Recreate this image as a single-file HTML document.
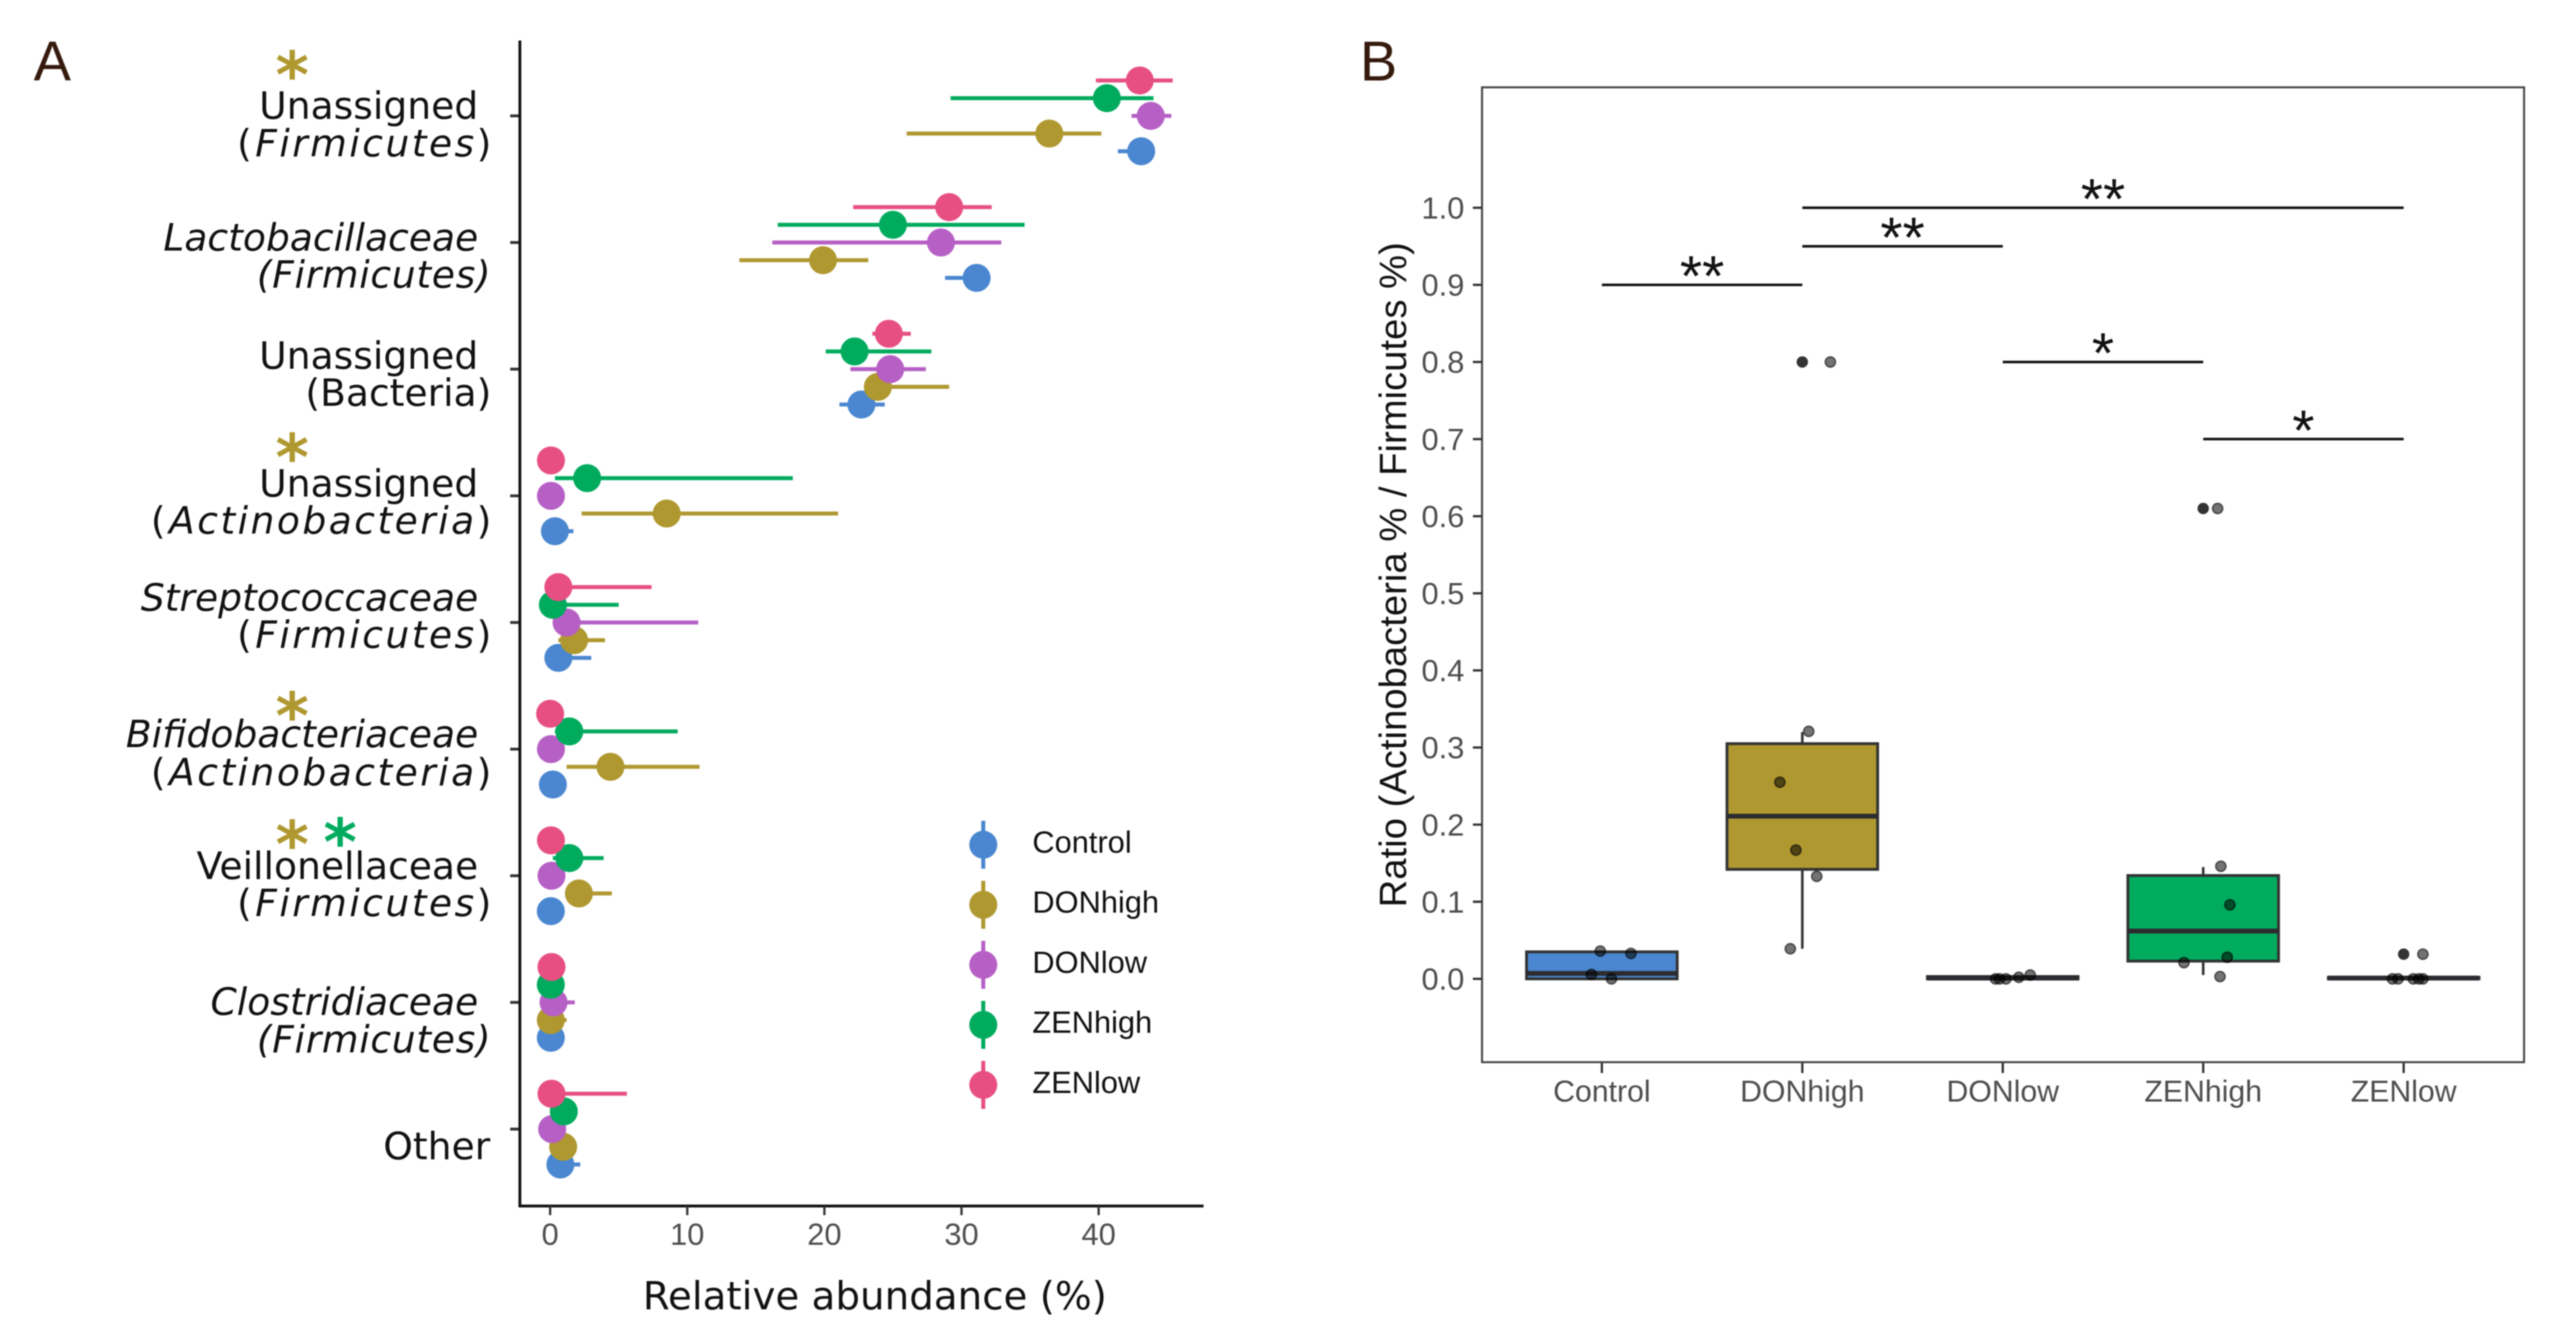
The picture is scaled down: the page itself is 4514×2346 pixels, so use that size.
<!DOCTYPE html>
<html lang="en">
<head>
<meta charset="utf-8">
<title>Relative abundance and Actinobacteria / Firmicutes ratio</title>
<style>
html,body{margin:0;padding:0;background:#fff;}
svg{display:block;filter:blur(1px);}
text{font-family:"Liberation Sans",sans-serif;}
.cat{font-family:"DejaVu Sans",sans-serif;font-size:66px;fill:#111;text-anchor:end;}
.sp{font-style:italic;letter-spacing:4.3px;}
.star{font-family:"DejaVu Sans",sans-serif;font-size:112px;font-weight:bold;text-anchor:middle;}
.panel{font-size:98px;fill:#35190c;}
</style>
</head>
<body>
<svg id="figure" xmlns="http://www.w3.org/2000/svg" width="4514" height="2346" viewBox="0 0 4514 2346">
  <rect x="0" y="0" width="4514" height="2346" fill="#ffffff"/>

  <text class="panel" x="59" y="141">A</text>
  <text class="panel" x="2383" y="141">B</text>

  <g id="panelA">
    <g>
      <text class="cat"><tspan x="838" y="208">Unassigned</tspan><tspan x="861" y="274">(<tspan class="sp" dx="6">Firmicutes</tspan>)</tspan></text>
      <text class="cat" font-style="italic"><tspan x="838" y="439">Lactobacillaceae</tspan><tspan x="861" y="504" letter-spacing="1.2">(Firmicutes)</tspan></text>
      <text class="cat"><tspan x="838" y="646">Unassigned</tspan><tspan x="861" y="711">(Bacteria)</tspan></text>
      <text class="cat"><tspan x="838" y="870">Unassigned</tspan><tspan x="861" y="935">(<tspan class="sp" dx="6">Actinobacteria</tspan>)</tspan></text>
      <text class="cat"><tspan x="838" y="1070" font-style="italic">Streptococcaceae</tspan><tspan x="861" y="1135">(<tspan class="sp" dx="6">Firmicutes</tspan>)</tspan></text>
      <text class="cat"><tspan x="838" y="1309" font-style="italic">Bifidobacteriaceae</tspan><tspan x="861" y="1376">(<tspan class="sp" dx="6">Actinobacteria</tspan>)</tspan></text>
      <text class="cat"><tspan x="838" y="1540">Veillonellaceae</tspan><tspan x="861" y="1605">(<tspan class="sp" dx="6">Firmicutes</tspan>)</tspan></text>
      <text class="cat" font-style="italic"><tspan x="838" y="1778">Clostridiaceae</tspan><tspan x="861" y="1844" letter-spacing="1.2">(Firmicutes)</tspan></text>
      <text class="cat" x="859" y="2031">Other</text>
    </g>
    <g>
      <text class="star" x="512" y="171" fill="#b09830">*</text>
      <text class="star" x="512" y="841" fill="#b09830">*</text>
      <text class="star" x="512" y="1294" fill="#b09830">*</text>
      <text class="star" x="512" y="1519" fill="#b09830">*</text>
      <text class="star" x="596" y="1515" fill="#00ab5e">*</text>
    </g>
    <text x="1533" y="2294" text-anchor="middle" font-size="68" fill="#111" style="font-family:'DejaVu Sans',sans-serif">Relative abundance (%)</text>
    <g id="aMarks"></g>
    <g id="aAxes"></g>
    <g id="aLegend"></g>
  </g>

  <g id="panelB">
    <text transform="translate(2464 1007) rotate(-90)" text-anchor="middle" font-size="67" fill="#111">Ratio (Actinobacteria % / Firmicutes %)</text>
    <g id="bMarks"></g>
    <g id="bSig"></g>
    <g id="bAxes"></g>
  </g>
</svg>

<script>
/* ---------- Panel A data (top to bottom category order) ---------- */
const categoriesA = ['Unassigned (Firmicutes)','Lactobacillaceae','Unassigned (Bacteria)','Unassigned (Actinobacteria)','Streptococcaceae','Bifidobacteriaceae','Veillonellaceae','Clostridiaceae','Other'];
const seriesNames = ['Control','DONhigh','DONlow','ZENhigh','ZENlow'];
const seriesColors = ['#4a87d0','#b09830','#b65fc5','#00ab5e','#e74f82'];
const xTickValues = [0,10,20,30,40];

const controlMean = [43.1,31.1,22.7,0.35,0.6,0.2,0.05,0.05,0.75];
const controlLow  = [41.4,28.8,21.1,0,0,0,0,0,0.2];
const controlHigh = [44.0,32.0,24.4,1.7,3.0,0.8,0.5,0.5,2.2];

const donHighMean = [36.4,19.9,23.9,8.5,1.75,4.4,2.1,0.05,0.95];
const donHighLow  = [26.0,13.8,23.2,2.3,0.6,1.2,1.2,0,0.3];
const donHighHigh = [40.2,23.2,29.1,21.0,4.0,10.9,4.5,1.2,1.8];

const donLowMean = [43.8,28.5,24.8,0.06,1.2,0.06,0.1,0.25,0.15];
const donLowLow  = [42.4,16.2,21.9,0,0.3,0,0,0,0];
const donLowHigh = [45.3,32.9,27.4,0.5,10.8,0.5,0.6,1.8,0.9];

const zenHighMean = [40.6,25.0,22.2,2.7,0.2,1.4,1.4,0.05,1.0];
const zenHighLow  = [29.2,16.6,20.1,0.35,0,0.35,0.2,0,0.3];
const zenHighHigh = [44.0,34.6,27.8,17.7,5.0,9.3,3.9,0.7,2.0];

const zenLowMean = [43.0,29.1,24.7,0.06,0.6,0,0.06,0.1,0.1];
const zenLowLow  = [39.8,22.1,23.5,0,0.1,0,0,0,0];
const zenLowHigh = [45.4,32.2,26.3,0.9,7.4,0.5,0.6,0.7,5.6];

/* ---------- Panel B data ---------- */
const categoriesB = ['Control','DONhigh','DONlow','ZENhigh','ZENlow'];
const boxColors = ['#4a87d0','#b09830','#b65fc5','#00ab5e','#e74f82'];
const yTickValues = [0,0.1,0.2,0.3,0.4,0.5,0.6,0.7,0.8,0.9,1.0];
const q1Values     = [0,0.142,0,0.023,0];
const medianValues = [0.007,0.211,0.001,0.062,0.001];
const q3Values     = [0.035,0.305,0.003,0.134,0.002];
const whiskerLow   = [0,0.039,0,0.005,0];
const whiskerHigh  = [0.035,0.32,0.005,0.145,0.002];

const pointGroup  = [0,0,0,0, 1,1,1,1,1,1, 2,2,2,2,2, 3,3,3,3,3,3, 4,4,4,4,4,4];
const pointJitter = [-0.008,0.145,-0.052,0.048, 0.032,-0.112,-0.032,0.072,-0.06,0.14, -0.036,0.016,0.08,0.137,-0.016, 0.088,0.133,0.12,-0.096,0.084,0.072, 0.096,-0.056,-0.028,0.048,0.076,0.096];
const pointValue  = [0.036,0.033,0.0056,0, 0.321,0.255,0.167,0.133,0.039,0.80, 0,0,0.002,0.005,0, 0.146,0.096,0.028,0.021,0.003,0.61, 0.032,0,0,0,0,0];
const outlierGroup = [1,3,4];
const outlierValue = [0.80,0.61,0.032];

const bracketFrom  = [0,1,1,2,3];
const bracketTo    = [1,2,4,3,4];
const bracketLevel = [0.9,0.95,1.0,0.8,0.7];
const bracketLabel = ['**','**','**','*','*'];

/* ---------- helpers ---------- */
const NS = 'http://www.w3.org/2000/svg';
function mk(tag, attrs, parent){
  const el = document.createElementNS(NS, tag);
  for (const k in attrs) el.setAttribute(k, attrs[k]);
  parent.appendChild(el);
  return el;
}

/* ---------- Panel A scales ---------- */
const xA = v => 964 + v * 24.03;
const catY = i => 203 + i * 221.9;
const dodge = s => (2 - s) * 31;   /* Control lowest, ZENlow highest */
const means = [controlMean, donHighMean, donLowMean, zenHighMean, zenLowMean];
const lows  = [controlLow, donHighLow, donLowLow, zenHighLow, zenLowLow];
const highs = [controlHigh, donHighHigh, donLowHigh, zenHighHigh, zenLowHigh];

const aMarks = document.getElementById('aMarks');
const aAxes = document.getElementById('aAxes');
const aLegend = document.getElementById('aLegend');

categoriesA.forEach((cat, c) => {
  seriesNames.forEach((name, s) => {
    const y = catY(c) + dodge(s);
    const range = mk('line', {x1: xA(lows[s][c]), x2: xA(highs[s][c]), y1: y, y2: y, stroke: seriesColors[s], 'stroke-width': 7}, aMarks);
    
    
    const point = mk('circle', {cx: xA(means[s][c]), cy: y, r: 24.5, fill: seriesColors[s]}, aMarks);
    
    
  });
  const tick = mk('line', {x1: 894, x2: 911, y1: catY(c), y2: catY(c), stroke: '#333', 'stroke-width': 5}, aAxes);
  
  
});

const yAxisA = mk('line', {x1: 911, x2: 911, y1: 71, y2: 2115, stroke: '#111', 'stroke-width': 5}, aAxes);


const xAxisA = mk('line', {x1: 909, x2: 2109, y1: 2113, y2: 2113, stroke: '#111', 'stroke-width': 5}, aAxes);



xTickValues.forEach(v => {
  const t = mk('line', {x1: xA(v), x2: xA(v), y1: 2113, y2: 2129, stroke: '#333', 'stroke-width': 4}, aAxes);
  
  
  const l = mk('text', {x: xA(v), y: 2181, 'text-anchor': 'middle', 'font-size': 54, fill: '#4d4d4d'}, aAxes);
  
  
  l.textContent = v;
});

seriesNames.forEach((name, s) => {
  const y = 1480 + s * 105.2;
  const entry = mk('g', {}, aLegend);
  
  
  const ln = mk('line', {x1: 1723, x2: 1723, y1: y - 42, y2: y + 42, stroke: seriesColors[s], 'stroke-width': 7}, entry);
  
  
  const dot = mk('circle', {cx: 1723, cy: y, r: 24.5, fill: seriesColors[s]}, entry);
  
  
  const tx = mk('text', {x: 1809, y: y + 14, 'font-size': 54, fill: '#111'}, entry);
  
  
  tx.textContent = name;
});

/* ---------- Panel B scales ---------- */
const xB = i => 2807 + i * 351.25;
const yB = v => 1715 - v * 1351;
const boxHalf = 132;
const bMarks = document.getElementById('bMarks');
const bSig = document.getElementById('bSig');
const bAxes = document.getElementById('bAxes');

categoriesB.forEach((name, i) => {
  const whisker = mk('line', {x1: xB(i), x2: xB(i), y1: yB(whiskerHigh[i]), y2: yB(whiskerLow[i]), stroke: '#333', 'stroke-width': 4.5}, bMarks);
  
  
  const box = mk('rect', {x: xB(i) - boxHalf, width: boxHalf * 2, y: yB(q3Values[i]), height: yB(q1Values[i]) - yB(q3Values[i]), fill: boxColors[i], stroke: '#333', 'stroke-width': 5}, bMarks);
  
  
  const median = mk('line', {x1: xB(i) - boxHalf, x2: xB(i) + boxHalf, y1: yB(medianValues[i]), y2: yB(medianValues[i]), stroke: '#2c2c30', 'stroke-width': 8.5}, bMarks);
  
  
  const tick = mk('line', {x1: xB(i), x2: xB(i), y1: 1861, y2: 1880, stroke: '#333', 'stroke-width': 4}, bAxes);
  
  
  const lab = mk('text', {x: xB(i), y: 1930, 'text-anchor': 'middle', 'font-size': 53, fill: '#4d4d4d'}, bAxes);
  
  
  lab.textContent = name;
});

outlierValue.forEach((v, i) => {
  const o = mk('circle', {cx: xB(outlierGroup[i]), cy: yB(v), r: 10, fill: '#333'}, bMarks);
  
  
});

pointValue.forEach((v, i) => {
  const p = mk('circle', {cx: xB(pointGroup[i] + pointJitter[i]), cy: yB(v), r: 9, fill: 'rgba(0,0,0,0.55)', stroke: 'rgba(0,0,0,0.6)', 'stroke-width': 2.5}, bMarks);
  
  
});

bracketLevel.forEach((lvl, i) => {
  const br = mk('line', {x1: xB(bracketFrom[i]), x2: xB(bracketTo[i]), y1: yB(lvl), y2: yB(lvl), stroke: '#111', 'stroke-width': 4.5}, bSig);
  
  
  const st = mk('text', {x: (xB(bracketFrom[i]) + xB(bracketTo[i])) / 2, y: yB(lvl) + 19, 'text-anchor': 'middle', 'font-size': 100, fill: '#111'}, bSig);
  
  
  st.textContent = bracketLabel[i];
});

const frame = mk('rect', {x: 2597, y: 153, width: 1826, height: 1708, fill: 'none', stroke: '#444', 'stroke-width': 3.5}, bAxes);



yTickValues.forEach(v => {
  const t = mk('line', {x1: 2581, x2: 2597, y1: yB(v), y2: yB(v), stroke: '#333', 'stroke-width': 4}, bAxes);
  
  
  const l = mk('text', {x: 2566, y: yB(v) + 19, 'text-anchor': 'end', 'font-size': 54, fill: '#4d4d4d'}, bAxes);
  
  
  l.textContent = v.toFixed(1);
});
</script>
</body>
</html>
